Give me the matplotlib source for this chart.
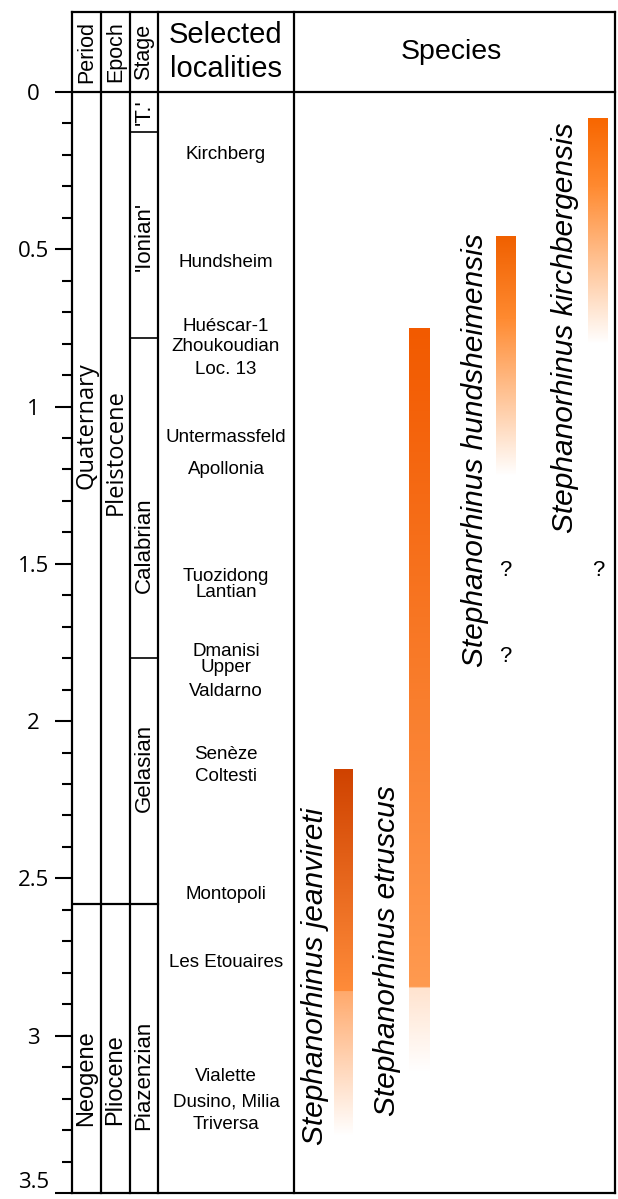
import numpy as np
import matplotlib.pyplot as plt
from matplotlib.colors import to_rgb

# time scale (Ma)
period_names = ['Quaternary', 'Neogene']
period_bounds = [0, 2.58, 3.5]
period_label_y = [1.06, 3.135]
epoch_names = ['Pleistocene', 'Pliocene']
epoch_label_y = [1.145, 3.14]
stage_names = ["'T.'", "'Ionian'", 'Calabrian', 'Gelasian', 'Piazenzian']
stage_bounds = [0, 0.126, 0.781, 1.8, 2.58, 3.5]
stage_label_y = [0.064, 0.461, 1.44, 2.15, 3.125]

localities = ['Kirchberg', 'Hundsheim', 'Huéscar-1', 'Zhoukoudian', 'Loc. 13',
              'Untermassfeld', 'Apollonia', 'Tuozidong', 'Lantian', 'Dmanisi',
              'Upper', 'Valdarno', 'Senèze', 'Coltesti', 'Montopoli',
              'Les Etouaires', 'Vialette', 'Dusino, Milia', 'Triversa']
locality_y = [0.2, 0.543, 0.747, 0.81, 0.883, 1.099, 1.201, 1.54, 1.592,
              1.78, 1.83, 1.907, 2.107, 2.177, 2.552, 2.768, 3.13, 3.21, 3.283]

species = ['Stephanorhinus jeanvireti', 'Stephanorhinus etruscus',
           'Stephanorhinus hundsheimensis', 'Stephanorhinus kirchbergensis']
first_app = [2.155, 0.753, 0.46, 0.083]
solid_end = [2.86, 2.85, 0.72, 0.3]
fade_end = [3.32, 3.12, 1.22, 0.8]
fade_alpha = [0.75, 0.28, 1.0, 1.0]
top_colors = ['#cf4200', '#f25a00', '#f06000', '#f86600']
low_colors = ['#ff8c3a', '#ff9a50', '#ff8a30', '#ff8a30']

question_x = [433, 526, 433]
question_y = [1.52, 1.52, 1.795]

ticks = np.arange(0, 3.51, 0.5)
tick_labels = ['0', '0.5', '1', '1.5', '2', '2.5', '3', '3.5']

# column edges in px from the axis line
cols = [0, 29, 58, 86, 222, 543]
bar_x = [(262, 281), (337, 358), (424, 444), (516, 536)]
label_x = [243, 315, 403, 493]
label_y = [2.81, 2.73, 1.14, 0.75]
head_y = -0.127

sans = 'Liberation Sans'
myr = 'Open Sans'

fig = plt.figure(figsize=(6.18, 11.99), dpi=100)
ax = fig.add_axes([72 / 618, 1 - 1193 / 1199, 543 / 618, 1181 / 1199])

for i, name in enumerate(species):
    n = 400
    ys = np.linspace(first_app[i], fade_end[i], n)
    rgba = np.zeros((n, 1, 4))
    c0, c1 = np.array(to_rgb(top_colors[i])), np.array(to_rgb(low_colors[i]))
    for k, yv in enumerate(ys):
        if yv <= solid_end[i]:
            t = (yv - first_app[i]) / (solid_end[i] - first_app[i])
            a = 1.0
        else:
            t = 1.0
            a = fade_alpha[i] * (fade_end[i] - yv) / (fade_end[i] - solid_end[i])
        rgba[k, 0, :3] = c0 + (c1 - c0) * t
        rgba[k, 0, 3] = a
    x0, x1 = bar_x[i]
    ax.imshow(rgba, extent=(x0, x1, fade_end[i], first_app[i]), origin='upper',
              aspect='auto', interpolation='bilinear', zorder=2)
    ax.text(label_x[i], label_y[i], name, rotation=90, ha='center', va='center',
            fontsize=21.5, style='italic', family=sans, zorder=3)

for qx, qy in zip(question_x, question_y):
    ax.text(qx, qy, '?', ha='center', va='center', fontsize=16, family=sans)

# table lines
lw = 1.6
ax.plot([0, 543], [0, 0], color='black', lw=lw, clip_on=False)
for x in cols[1:-1]:
    ax.plot([x, x], [-0.254, 3.5], color='black', lw=lw, clip_on=False)
ax.plot([0, 86], [2.58, 2.58], color='black', lw=lw)
for b in stage_bounds[1:4]:
    ax.plot([58, 86], [b, b], color='black', lw=1.2)

# headers
ax.text(14.5, head_y, 'Period', rotation=90, ha='center', va='center', fontsize=15.5, family=sans)
ax.text(43.5, head_y, 'Epoch', rotation=90, ha='center', va='center', fontsize=15.5, family=sans)
ax.text(72, head_y, 'Stage', rotation=90, ha='center', va='center', fontsize=15.5, family=sans)
ax.text(154, head_y, 'Selected\nlocalities', ha='center', va='center', fontsize=21,
        family=sans, linespacing=1.25)
ax.text(379, head_y, 'Species', ha='center', va='center', fontsize=20.5, family=sans)

for name, yv in zip(period_names, period_label_y):
    ax.text(14.5, yv, name, rotation=90, ha='center', va='center', fontsize=17,
            family=myr if name == 'Quaternary' else sans)
for name, yv in zip(epoch_names, epoch_label_y):
    ax.text(43.5, yv, name, rotation=90, ha='center', va='center', fontsize=17,
            family=myr if name == 'Pleistocene' else sans)
for name, yv in zip(stage_names, stage_label_y):
    ax.text(72, yv, name, rotation=90, ha='center', va='center', fontsize=16, family=sans)

for name, yv in zip(localities, locality_y):
    ax.text(154, yv, name, ha='center', va='center', fontsize=13.5, family=sans)

ax.set_xlim(0, 543)
ax.set_ylim(3.5, -0.254)
ax.set_xticks([])
ax.set_yticks(ticks)
ax.set_yticklabels(tick_labels, family=myr, fontsize=16)
ax.set_yticks(np.arange(0, 3.51, 0.1), minor=True)
ax.tick_params(axis='y', which='major', length=12.2, width=1.5, pad=15.5)
ax.tick_params(axis='y', which='minor', length=7.2, width=1.5)
for lab in ax.get_yticklabels():
    lab.set_horizontalalignment('center')
    if lab.get_text() == '3.5':
        lab.set_verticalalignment('bottom')
for s in ax.spines.values():
    s.set_linewidth(lw)

fig.savefig('out.png', dpi=100)
